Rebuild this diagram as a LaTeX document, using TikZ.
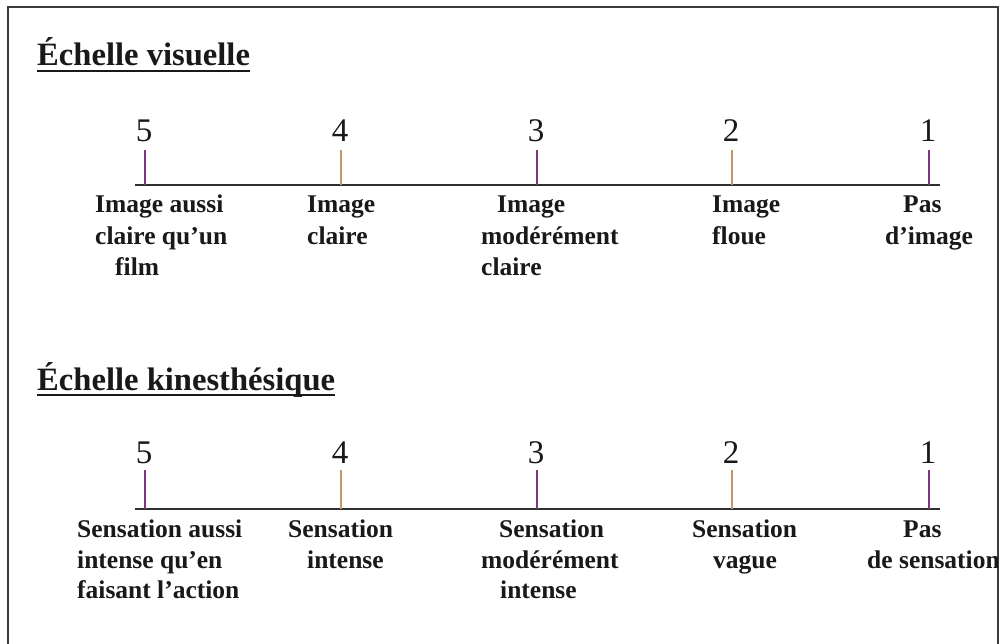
\documentclass[tikz,border=0pt]{standalone}
\usepackage{fontspec}
\setmainfont{Liberation Serif}
\definecolor{tickpurple}{RGB}{125,55,125}
\definecolor{ticktan}{RGB}{195,150,105}
\definecolor{ink}{RGB}{25,25,25}
\begin{document}
\begin{tikzpicture}[x=1pt,y=-1pt,
  frame/.style={draw=ink!85,line width=1.8pt},
  axis/.style={draw=ink!90,line width=2pt},
  tickA/.style={draw=tickpurple,line width=1.6pt},
  tickB/.style={draw=ticktan,line width=1.6pt},
  title/.style={inner sep=0pt,anchor=base west,text=ink,font=\fontsize{32.6}{36}\selectfont\bfseries},
  num/.style={inner sep=0pt,anchor=base,text=ink,font=\fontsize{33}{36}\selectfont},
  lbl/.style={inner sep=0pt,anchor=base west,text=ink,font=\fontsize{25.5}{30}\selectfont\bfseries},
  uline/.style={draw=ink,line width=2.2pt}]
\useasboundingbox (0,0) rectangle (1003,644);
\fill[white] (0,0) rectangle (1003,644);
% frame (bottom edge not shown)
\draw[frame] (8,644) -- (8,7) -- (998,7) -- (998,644);

\begin{scope}
\clip (9,8) rectangle (997,644);
% ---------- visual scale ----------
\node[title] (t1) at (37,66) {Échelle visuelle};
\draw[uline] (t1.base west) ++(0,5) coordinate (u1a) -- (t1.base east |- u1a) coordinate (u1b);

\coordinate (a1s) at (135,185);
\coordinate (a1e) at (940,185);
\draw[axis] (a1s) -- (a1e);

\foreach \n/\x/\s in {5/145/tickA,4/341/tickB,3/537/tickA,2/732/tickB,1/929/tickA}{
  \node[num] (v\n) at (\x-1,142) {\n};
  \coordinate (vt\n) at (\x,150);
  \draw[\s] (vt\n) -- (vt\n |- a1s);
}

\node[lbl] (v5a) at (95,213) {Image aussi};
\node[lbl] (v5b) at (95,244) {claire qu’un};
\node[lbl] (v5c) at (115,276) {film};
\node[lbl] (v4a) at (307,213) {Image};
\node[lbl] (v4b) at (307,244) {claire};
\node[lbl] (v3a) at (497,213) {Image};
\node[lbl] (v3b) at (481,244) {modérément};
\node[lbl] (v3c) at (481,276) {claire};
\node[lbl] (v2a) at (712,213) {Image};
\node[lbl] (v2b) at (712,244) {floue};
\node[lbl] (v1a) at (903,213) {Pas};
\node[lbl] (v1b) at (885,244) {d’image};

% ---------- kinesthetic scale ----------
\node[title] (t2) at (37,390) {Échelle kinesthésique};
\draw[uline] (t2.base west) ++(0,5) coordinate (u2a) -- (t2.base east |- u2a) coordinate (u2b);

\coordinate (a2s) at (135,509);
\coordinate (a2e) at (940,509);
\draw[axis] (a2s) -- (a2e);

\foreach \n/\x/\s in {5/145/tickA,4/341/tickB,3/537/tickA,2/732/tickB,1/929/tickA}{
  \node[num] (k\n) at (\x-1,463) {\n};
  \coordinate (kt\n) at (\x,470);
  \draw[\s] (kt\n) -- (kt\n |- a2s);
}

\node[lbl] (k5a) at (77,537) {Sensation aussi};
\node[lbl] (k5b) at (77,568) {intense qu’en};
\node[lbl] (k5c) at (77,598) {faisant l’action};
\node[lbl] (k4a) at (288,537) {Sensation};
\node[lbl] (k4b) at (307,568) {intense};
\node[lbl] (k3a) at (499,537) {Sensation};
\node[lbl] (k3b) at (481,568) {modérément};
\node[lbl] (k3c) at (500,598) {intense};
\node[lbl] (k2a) at (692,537) {Sensation};
\node[lbl] (k2b) at (713,568) {vague};
\node[lbl] (k1a) at (903,537) {Pas};
\node[lbl] (k1b) at (867,568) {de sensation};
\end{scope}
\end{tikzpicture}
\end{document}
